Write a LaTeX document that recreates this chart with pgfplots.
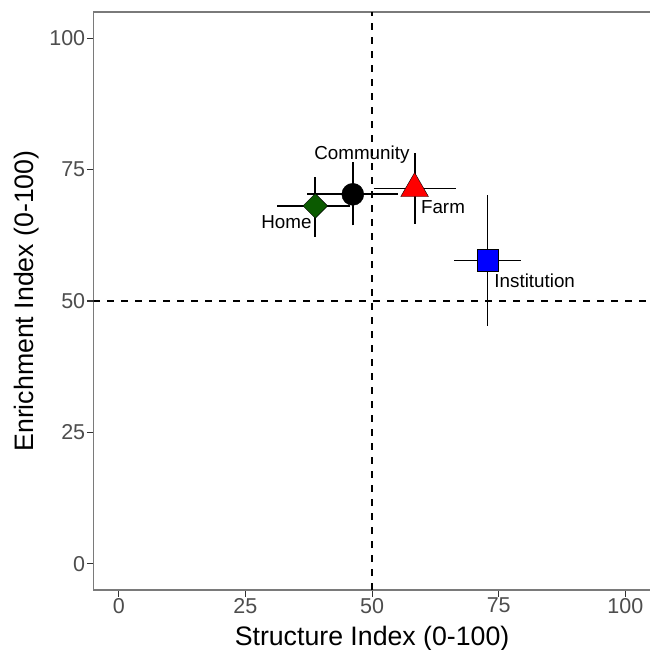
\documentclass[border=0pt]{standalone}
\usepackage{fontspec}
\setmainfont{Liberation Sans}
\usepackage{pgfplots}
\pgfplotsset{compat=1.18}
\definecolor{framegray}{HTML}{7A7A7A}
\definecolor{tickgray}{HTML}{333333}
\definecolor{labgray}{HTML}{4D4D4D}
\definecolor{homegreen}{HTML}{0B5A00}

\begin{document}
\begin{tikzpicture}
\begin{axis}[
  at={(0,0)}, anchor=south west,
  scale only axis, width=557.3bp, height=578bp,
  xmin=-5, xmax=105, ymin=-5, ymax=105,
  xtick={0,25,50,75,100}, ytick={0,25,50,75,100},
  tick align=outside, tick pos=left,
  major tick length=6.5bp,
  every tick/.style={tickgray, line width=1.1bp},
  axis line style={framegray, line width=1.1bp},
  /pgf/number format/assume math mode=true,
  ticklabel style={font=\fontsize{21.5bp}{24bp}\selectfont, text=labgray, inner sep=1.5bp},
  xlabel={Structure Index (0-100)},
  ylabel={Enrichment Index (0-100)},
  xlabel style={font=\fontsize{26.7bp}{30bp}\selectfont, at={(axis description cs:0.5,-0.09516)}, anchor=base},
  ylabel style={font=\fontsize{26.7bp}{30bp}\selectfont, at={(axis description cs:-0.1071,0.5)}, anchor=base, rotate=0},
  ebar/.style={black, solid, line width=1.8bp, forget plot},
]
\addplot[black, line width=1.2bp, dash pattern=on 7bp off 7bp] coordinates {(50,-5) (50,105)};
\addplot[black, line width=1.2bp, dash pattern=on 7bp off 7bp] coordinates {(-5,50) (105,50)};

% Home: x 38.8 [31.3, 45.7], y 68.1 [62.2, 73.6]
\addplot[ebar] coordinates {(31.3,68.1) (45.7,68.1)};
\addplot[ebar] coordinates {(38.8,62.2) (38.8,73.6)};
% Community: x 46.2 [37.2, 55.2], y 70.3 [64.4, 76.4]
\addplot[ebar] coordinates {(37.2,70.3) (55.2,70.3)};
\addplot[ebar] coordinates {(46.2,64.4) (46.2,76.4)};
% Farm: x 58.4 [50.3, 66.5], y 71.4 [64.7, 78.2]
\addplot[ebar] coordinates {(50.3,71.4) (66.5,71.4)};
\addplot[ebar] coordinates {(58.4,64.7) (58.4,78.2)};
% Institution: x 72.8 [66.2, 79.4], y 57.7 [45.3, 70.1]
\addplot[ebar] coordinates {(66.2,57.7) (79.4,57.7)};
\addplot[ebar] coordinates {(72.8,45.3) (72.8,70.1)};

\addplot[only marks, mark=square*, mark size=8.7bp, mark options={rotate=45, draw=none, fill=homegreen}] coordinates {(38.8,68.1)};
\addplot[only marks, mark=*, mark size=11bp, mark options={draw=none, fill=black}] coordinates {(46.2,70.3)};
\addplot[only marks, mark=triangle*, mark size=16bp, mark options={draw=none, fill=red}] coordinates {(58.4,71.4)};
\addplot[only marks, mark=square*, mark size=10.85bp, mark options={draw=none, fill=blue}] coordinates {(72.8,57.7)};

\node[font=\fontsize{18.8bp}{20bp}\selectfont] at (axis cs:48.0,77.9) {Community};
\node[font=\fontsize{18.8bp}{20bp}\selectfont] at (axis cs:33.1,65.0) {Home};
\node[font=\fontsize{18.8bp}{20bp}\selectfont] at (axis cs:64.0,67.9) {Farm};
\node[font=\fontsize{18.8bp}{20bp}\selectfont] at (axis cs:82.1,53.9) {Institution};
\end{axis}
\pgfresetboundingbox
\path[use as bounding box] (-93.4bp,-60bp) rectangle (556.6bp,590bp);
\end{tikzpicture}
\end{document}
